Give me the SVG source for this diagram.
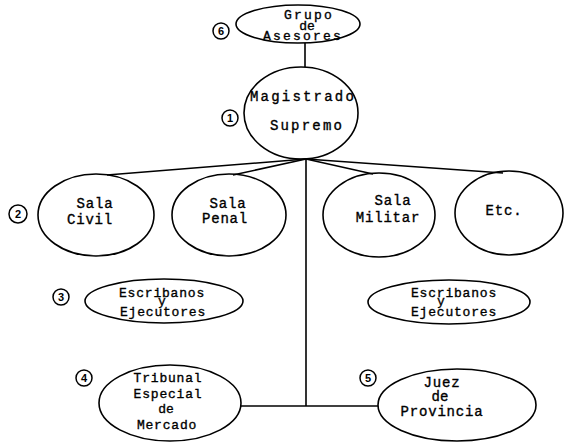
<svg xmlns="http://www.w3.org/2000/svg" width="567" height="442" viewBox="0 0 567 442">
<style>
.n{fill:none;stroke:#000;stroke-width:1.6}
.c{fill:none;stroke:#000;stroke-width:1.5}
.l{stroke:#000;stroke-width:1.6;fill:none}
text{font-family:"Liberation Mono","Courier New",monospace;font-size:14px;fill:#000;stroke:#000;stroke-width:0.35;text-anchor:middle}
.num{font-size:11px;font-family:"Liberation Sans",Arial,sans-serif;font-weight:bold;stroke-width:0}
.w{letter-spacing:2.2px}
.s{letter-spacing:0.8px}
.t{font-size:13px}
</style>
<rect width="567" height="442" fill="#fff"/>
<g id="connectors">
<line class="l" x1="305" y1="43" x2="305" y2="67"/>
<line class="l" x1="306" y1="159" x2="107" y2="175"/>
<line class="l" x1="306" y1="159" x2="233" y2="175"/>
<line class="l" x1="306" y1="159" x2="373" y2="174"/>
<line class="l" x1="306" y1="159" x2="503" y2="173"/>
<line class="l" x1="306" y1="159" x2="306" y2="406"/>
<line class="l" x1="241" y1="406" x2="378" y2="406"/>
</g>
<g id="n6">
<ellipse class="n" cx="298" cy="24" rx="62" ry="19"/>
<text class="w t" x="309" y="19">Grupo</text>
<text class="t" x="307" y="30">de</text>
<text class="w t" x="303" y="40">Asesores</text>
<circle class="c" cx="221" cy="31" r="8"/>
<text class="num" x="221" y="35">6</text>
</g>
<g id="n1">
<ellipse class="n" cx="301" cy="113" rx="57" ry="46"/>
<text class="w" x="303" y="101">Magistrado</text>
<text class="w" x="307" y="130">Supremo</text>
<circle class="c" cx="230" cy="118" r="8"/>
<text class="num" x="230" y="122">1</text>
</g>
<g id="n2a">
<ellipse class="n" cx="96" cy="215" rx="58" ry="41"/>
<text class="s" x="95" y="208">Sala</text>
<text class="s" x="90" y="224">Civil</text>
<circle class="c" cx="18" cy="214" r="9"/>
<text class="num" x="18" y="218">2</text>
</g>
<g id="n2b">
<ellipse class="n" cx="229" cy="215" rx="57" ry="41"/>
<text class="s" x="228" y="208">Sala</text>
<text class="s" x="225" y="223">Penal</text>
</g>
<g id="n2c">
<ellipse class="n" cx="379" cy="215" rx="56" ry="42"/>
<text class="s" x="393" y="205">Sala</text>
<text class="s" x="388" y="222">Militar</text>
</g>
<g id="n2d">
<ellipse class="n" cx="509" cy="213" rx="54" ry="42"/>
<text class="s" x="504" y="215">Etc.</text>
</g>
<g id="n3a">
<ellipse class="n" cx="164" cy="301" rx="79" ry="22"/>
<text class="s t" x="162" y="297">Escribanos</text>
<text class="t" x="162" y="305">y</text>
<text class="s t" x="163" y="316">Ejecutores</text>
<circle class="c" cx="61" cy="297" r="8"/>
<text class="num" x="61" y="301">3</text>
</g>
<g id="n3b">
<ellipse class="n" cx="449" cy="302" rx="81" ry="22"/>
<text class="s t" x="454" y="297">Escribanos</text>
<text class="t" x="441" y="305">y</text>
<text class="s t" x="454" y="316">Ejecutores</text>
</g>
<g id="n4">
<ellipse class="n" cx="170" cy="403" rx="71" ry="38"/>
<text class="s t" x="168" y="382">Tribunal</text>
<text class="s t" x="168" y="398">Especial</text>
<text class="t" x="166" y="413">de</text>
<text class="s t" x="167" y="429">Mercado</text>
<circle class="c" cx="84" cy="378" r="8"/>
<text class="num" x="84" y="382">4</text>
</g>
<g id="n5">
<ellipse class="n" cx="457" cy="405" rx="79" ry="36"/>
<text class="s" x="442" y="387">Juez</text>
<text x="440" y="401">de</text>
<text class="s" x="442" y="416">Provincia</text>
<circle class="c" cx="368" cy="378" r="8"/>
<text class="num" x="368" y="382">5</text>
</g>
</svg>
